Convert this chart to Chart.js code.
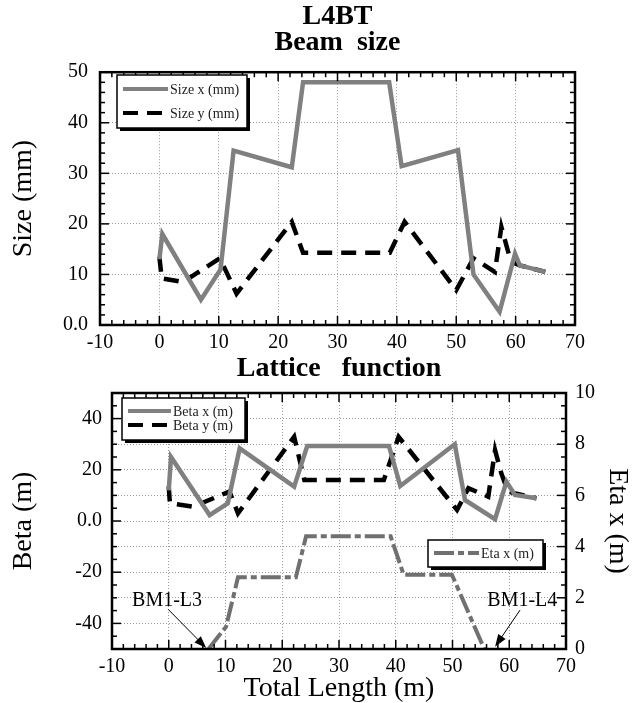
<!DOCTYPE html>
<html>
<head>
<meta charset="utf-8">
<script src="https://cdn.jsdelivr.net/npm/chart.js@4"></script>
<style>
html, body { margin:0; padding:0; background:#fff; overflow:hidden; }
#wrap { position:relative; width:640px; height:703px; }
canvas { position:absolute; left:0; }
#beam { top:0; }
#lattice { top:352px; }
</style>
</head>
<body>
<div id="wrap">
<canvas id="beam" width="640" height="360"></canvas>
<canvas id="lattice" width="640" height="351"></canvas>
</div>
<script>
// beam size (top)
var sizeXPos = [0, 0.5, 7, 10.3, 12.5, 22.3, 24.2, 38.7, 40.8, 50.3, 52.9, 57.3, 59.9, 60.7, 65]
var sizeXVal = [13, 18, 5, 11, 34.5, 31.2, 48, 48, 31.4, 34.6, 10, 2.6, 14.1, 11.8, 10.5]
var sizeYPos = [0, 0.4, 4, 10.2, 13, 22.3, 24.2, 38.8, 41.3, 50, 52.9, 56.5, 57.6, 59.2, 60.7, 65]
var sizeYVal = [13.5, 9.2, 8.5, 13.2, 6.2, 20.4, 14.3, 14.3, 20.4, 6.9, 13.2, 10.5, 19.4, 12.5, 11.8, 10.5]

// lattice function (bottom)
var betaXPos = [0, 0.4, 7.2, 10.4, 12.5, 22.1, 24.4, 38.8, 40.8, 50.4, 52.2, 57.5, 59.5, 61, 64.8]
var betaXVal = [12, 25, 2.3, 6.9, 28.4, 13.4, 29.3, 29.3, 13.7, 30, 8.2, 0.7, 15.4, 10.2, 8.9]
var betaYPos = [0, 0.2, 4.3, 10.7, 12.2, 22.1, 23.9, 37.9, 40.5, 50.8, 52.8, 56.3, 57.5, 58.6, 59.8, 64.8]
var betaYVal = [13.5, 6.9, 5.6, 11.5, 3.0, 32.9, 16.0, 16.0, 32.9, 4.3, 12.8, 9.5, 27.7, 18.6, 11.4, 8.9]
var etaPos = [7, 10.1, 12.2, 22.4, 24.2, 39.1, 41.4, 49.9, 55.6]
var etaVal = [0, 0.87, 2.8, 2.8, 4.4, 4.4, 2.9, 2.9, 0]

// arrows
var noteText = ['BM1-L3', 'BM1-L4']
var noteX = [-0.3, 62.3]
var noteY = [-31, -31]
var noteTailX = [-0.1, 61.9]
var noteTailY = [-34.5, -34.8]
var noteTipX = [6.6, 57.5]
var noteTipY = [-49.6, -49.1]

var serif = "'Liberation Serif', 'Times New Roman', serif"
Chart.defaults.font.family = serif
Chart.defaults.color = '#000'

function pts(xs, ys){
    return xs.map(function(x, i){ return {x: x, y: ys[i]} })
}

function isMajor(v, step){
    var r = Math.abs(v / step - Math.round(v / step))
    return r < 1e-6
}

function seg(ctx, x1, y1, x2, y2){
    ctx.beginPath()
    ctx.moveTo(x1, y1)
    ctx.lineTo(x2, y2)
    ctx.stroke()
}

// inward ticks + frame
var frameTicks = {
    id: 'frameTicks',
    afterDatasetsDraw: function(chart, args, opts){
        var ctx = chart.ctx, a = chart.chartArea
        var xs = chart.scales.x, ys = chart.scales.y, ys2 = chart.scales.y2 || ys
        ctx.save()
        ctx.strokeStyle = '#000'
        ctx.lineWidth = 1.5
        var v, p, len
        for (v = xs.min; v <= xs.max + 1e-9; v += opts.xMinor){
            p = xs.getPixelForValue(v)
            len = isMajor(v, opts.xMajor) ? 9 : 5
            seg(ctx, p, a.bottom, p, a.bottom - len)
            seg(ctx, p, a.top, p, a.top + len)
        }
        for (v = ys.min; v <= ys.max + 1e-9; v += opts.yMinor){
            p = ys.getPixelForValue(v)
            len = isMajor(v, opts.yMajor) ? 9 : 5
            seg(ctx, a.left, p, a.left + len, p)
        }
        for (v = ys2.min; v <= ys2.max + 1e-9; v += opts.y2Minor){
            p = ys2.getPixelForValue(v)
            len = isMajor(v, opts.y2Major) ? 9 : 5
            seg(ctx, a.right, p, a.right - len, p)
        }
        ctx.lineWidth = 2.5
        ctx.strokeRect(a.left, a.top, a.right - a.left, a.bottom - a.top)
        ctx.restore()
    }
}

// boxed legends with shadow
var boxLegend = {
    id: 'boxLegend',
    afterDatasetsDraw: function(chart, args, opts){
        var ctx = chart.ctx
        ctx.save()
        opts.boxes.forEach(function(b){
            ctx.fillStyle = '#000'
            ctx.fillRect(b.x + 3, b.y + 3, b.w, b.h)
            ctx.fillStyle = '#fff'
            ctx.fillRect(b.x, b.y, b.w, b.h)
            ctx.strokeStyle = '#000'
            ctx.lineWidth = 1.5
            ctx.strokeRect(b.x, b.y, b.w, b.h)
            b.items.forEach(function(di, i){
                var ds = chart.data.datasets[di]
                var yy = b.y + b.first + i * b.gap
                ctx.strokeStyle = ds.borderColor
                ctx.lineWidth = 4
                ctx.setLineDash(ds.borderDash || [])
                seg(ctx, b.x + 6, yy, b.x + 6 + b.sample, yy)
                ctx.setLineDash([])
                ctx.fillStyle = '#222'
                ctx.font = '14px ' + serif
                ctx.textAlign = 'left'
                ctx.textBaseline = 'middle'
                ctx.fillText(ds.label, b.x + 8 + b.sample, yy + 1)
            })
        })
        ctx.restore()
    }
}

// BM1 labels with arrows
var arrowNotes = {
    id: 'arrowNotes',
    afterDatasetsDraw: function(chart){
        var ctx = chart.ctx, xs = chart.scales.x, ys = chart.scales.y
        ctx.save()
        noteText.forEach(function(t, i){
            ctx.fillStyle = '#000'
            ctx.font = '20px ' + serif
            ctx.textAlign = 'center'
            ctx.textBaseline = 'middle'
            ctx.fillText(t, xs.getPixelForValue(noteX[i]), ys.getPixelForValue(noteY[i]))
            var x1 = xs.getPixelForValue(noteTailX[i]), y1 = ys.getPixelForValue(noteTailY[i])
            var x2 = xs.getPixelForValue(noteTipX[i]), y2 = ys.getPixelForValue(noteTipY[i])
            var ang = Math.atan2(y2 - y1, x2 - x1)
            ctx.strokeStyle = '#000'
            ctx.lineWidth = 1
            seg(ctx, x1, y1, x2 - 8 * Math.cos(ang), y2 - 8 * Math.sin(ang))
            ctx.beginPath()
            ctx.moveTo(x2, y2)
            ctx.lineTo(x2 - 13 * Math.cos(ang - 0.35), y2 - 13 * Math.sin(ang - 0.35))
            ctx.lineTo(x2 - 13 * Math.cos(ang + 0.35), y2 - 13 * Math.sin(ang + 0.35))
            ctx.closePath()
            ctx.fill()
        })
        ctx.restore()
    }
}

var tickFont = {size: 20, family: serif}
var titleFont = {size: 28, family: serif}

function gridStyle(){
    return {color: '#9a9a9a', lineWidth: 1, drawTicks: false}
}
function dotted(){
    return {display: false, dash: [1, 2]}
}

new Chart(document.getElementById('beam'), {
    type: 'line',
    data: {
        datasets: [{
            label: 'Size x (mm)',
            data: pts(sizeXPos, sizeXVal),
            borderColor: '#808080',
            borderWidth: 4.5,
            pointRadius: 0,
            tension: 0,
            fill: false
        }, {
            label: 'Size y (mm)',
            data: pts(sizeYPos, sizeYVal),
            borderColor: '#000',
            borderWidth: 4.5,
            borderDash: [15, 9],
            pointRadius: 0,
            tension: 0,
            fill: false
        }]
    },
    options: {
        responsive: false,
        animation: false,
        layout: {padding: {left: 0, right: 65, top: 0, bottom: 0}},
        plugins: {
            legend: {display: false},
            tooltip: {enabled: false},
            title: {
                display: true,
                text: ['L4BT', 'Beam  size'],
                fullSize: false,
                color: '#000',
                font: {size: 28, weight: 'bold', family: serif, lineHeight: 0.95},
                padding: {top: 3, bottom: 16}
            },
            frameTicks: {xMinor: 2, xMajor: 10, yMinor: 2, yMajor: 10, y2Minor: 2, y2Major: 10},
            boxLegend: {boxes: [{x: 117, y: 75, w: 130, h: 53, first: 14, gap: 24, sample: 45, items: [0, 1]}]}
        },
        scales: {
            x: {
                type: 'linear', min: -10, max: 70,
                ticks: {stepSize: 10, font: tickFont, color: '#000', padding: 6, autoSkip: false, maxRotation: 0},
                grid: gridStyle(), border: dotted(),
                afterFit: function(s){ s.height = 35 }
            },
            y: {
                type: 'linear', min: 0, max: 50,
                ticks: {stepSize: 10, font: tickFont, color: '#000', padding: 12, autoSkip: false,
                    callback: function(v){ return v === 0 ? '0.0' : v }},
                grid: gridStyle(), border: dotted(),
                title: {display: true, text: 'Size (mm)', font: titleFont, color: '#000', padding: {top: 7}},
                afterFit: function(s){ s.width = 100 }
            }
        }
    },
    plugins: [frameTicks, boxLegend]
})

new Chart(document.getElementById('lattice'), {
    type: 'line',
    data: {
        datasets: [{
            label: 'Beta x (m)',
            data: pts(betaXPos, betaXVal),
            borderColor: '#808080',
            borderWidth: 4.5,
            pointRadius: 0,
            tension: 0,
            fill: false,
            yAxisID: 'y'
        }, {
            label: 'Beta y (m)',
            data: pts(betaYPos, betaYVal),
            borderColor: '#000',
            borderWidth: 4.5,
            borderDash: [15, 9],
            pointRadius: 0,
            tension: 0,
            fill: false,
            yAxisID: 'y'
        }, {
            label: 'Eta x (m)',
            data: pts(etaPos, etaVal),
            borderColor: '#707070',
            borderWidth: 4,
            borderDash: [20, 4, 6, 4],
            pointRadius: 0,
            tension: 0,
            fill: false,
            yAxisID: 'y2'
        }]
    },
    options: {
        responsive: false,
        animation: false,
        layout: {padding: 0},
        plugins: {
            legend: {display: false},
            tooltip: {enabled: false},
            title: {
                display: true,
                text: 'Lattice   function',
                fullSize: false,
                color: '#000',
                font: {size: 28, weight: 'bold', family: serif, lineHeight: 1.0},
                padding: {top: 3, bottom: 10}
            },
            frameTicks: {xMinor: 2, xMajor: 10, yMinor: 5, yMajor: 20, y2Minor: 0.5, y2Major: 2},
            boxLegend: {boxes: [
                {x: 122, y: 46, w: 123, h: 42, first: 13, gap: 14, sample: 43, items: [0, 1]},
                {x: 428, y: 188, w: 115, h: 27, first: 13, gap: 14, sample: 45, items: [2]}
            ]}
        },
        scales: {
            x: {
                type: 'linear', min: -10, max: 70,
                ticks: {stepSize: 10, font: tickFont, color: '#000', padding: 6, autoSkip: false, maxRotation: 0},
                grid: gridStyle(), border: dotted(),
                title: {display: true, text: 'Total Length (m)', font: {size: 28, family: serif, lineHeight: 1.0}, color: '#000', padding: {top: 0, bottom: 0}},
                afterFit: function(s){ s.height = 54 }
            },
            y: {
                type: 'linear', position: 'left', min: -50, max: 50,
                ticks: {stepSize: 10, font: tickFont, color: '#000', padding: 10, autoSkip: false,
                    callback: function(v){ if (Math.round(v) % 20 !== 0) return ''; return v === 0 ? '0.0' : v }},
                grid: gridStyle(), border: dotted(),
                title: {display: true, text: 'Beta (m)', font: titleFont, color: '#000', padding: {top: 7}},
                afterFit: function(s){ s.width = 112 }
            },
            y2: {
                type: 'linear', position: 'right', min: 0, max: 10,
                ticks: {stepSize: 2, font: tickFont, color: '#000', padding: 9, autoSkip: false},
                grid: {drawOnChartArea: false, drawTicks: false},
                border: {display: false},
                title: {display: true, text: 'Eta x (m)', font: titleFont, color: '#000', padding: {top: 6}},
                afterFit: function(s){ s.width = 74 }
            }
        }
    },
    plugins: [frameTicks, boxLegend, arrowNotes]
})
</script>
</body>
</html>
